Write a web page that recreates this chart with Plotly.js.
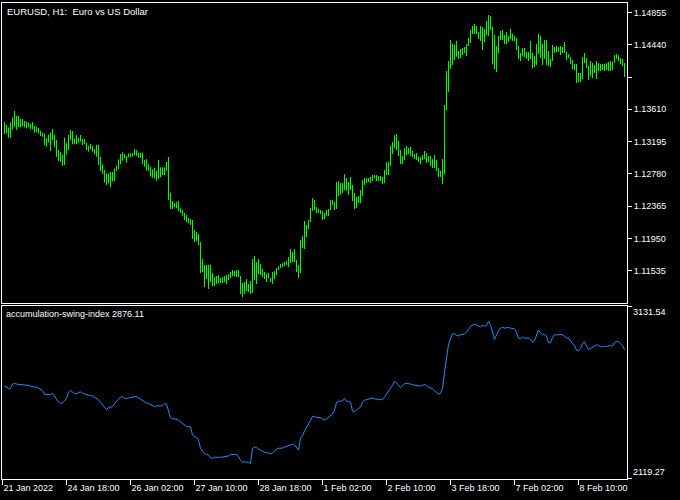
<!DOCTYPE html>
<html><head><meta charset="utf-8">
<script src="https://cdn.plot.ly/plotly-3.0.1.min.js"></script>
<style>html,body{margin:0;padding:0;background:#000;}#chart{width:680px;height:500px;}</style>
</head><body><div id="chart"></div>
<script>
const symbolTitle = 'EURUSD, H1:\u00a0 Euro vs US Dollar';
const indicatorName = 'accumulation-swing-index';
const firstBarIndex = 1; // hours since 21 Jan 2022 10:00 (weekend skipped)

const high = [
1.13448,1.13409,1.13379,1.13439,1.13507,1.13589,1.13529,1.13525,1.13486,1.13486,
1.13460,1.13452,1.13443,1.13422,1.13448,1.13396,1.13388,1.13371,1.13332,1.13311,
1.13298,1.13238,1.13285,1.13311,1.13358,1.13281,1.13216,1.13088,1.13062,1.13028,
1.13246,1.13174,1.13281,1.13345,1.13332,1.13234,1.13281,1.13246,1.13281,1.13229,
1.13229,1.13182,1.13139,1.13165,1.13139,1.13101,1.13152,1.13152,1.13002,1.12904,
1.12831,1.12788,1.12788,1.12806,1.12806,1.12853,1.12887,1.12968,1.13037,1.13058,
1.13037,1.13011,1.13045,1.13045,1.13045,1.13101,1.13088,1.13054,1.13054,1.13054,
1.12960,1.12972,1.12904,1.12874,1.12840,1.12861,1.12820,1.12960,1.12865,1.12865,
1.12865,1.12934,1.12998,1.12540,1.12433,1.12407,1.12420,1.12433,1.12339,1.12317,
1.12279,1.12253,1.12215,1.12202,1.12189,1.12060,1.12035,1.12009,1.11906,1.11688,
1.11611,1.11611,1.11611,1.11611,1.11508,1.11457,1.11470,1.11483,1.11444,1.11457,
1.11470,1.11483,1.11495,1.11521,1.11547,1.11534,1.11547,1.11547,1.11470,1.11380,
1.11393,1.11431,1.11367,1.11406,1.11688,1.11727,1.11650,1.11688,1.11624,1.11560,
1.11521,1.11495,1.11508,1.11444,1.11521,1.11534,1.11573,1.11598,1.11624,1.11637,
1.11650,1.11662,1.11714,1.11816,1.11778,1.11816,1.11675,1.11611,1.11932,1.11983,
1.12176,1.12125,1.12189,1.12343,1.12471,1.12446,1.12356,1.12330,1.12317,1.12304,
1.12279,1.12317,1.12330,1.12445,1.12445,1.12420,1.12677,1.12689,1.12664,1.12664,
1.12779,1.12728,1.12677,1.12741,1.12638,1.12535,1.12484,1.12497,1.12574,1.12702,
1.12728,1.12728,1.12728,1.12741,1.12766,1.12766,1.12766,1.12754,1.12754,1.12741,
1.12831,1.12933,1.12933,1.13139,1.13190,1.13280,1.13293,1.13203,1.13087,1.13010,
1.13113,1.13139,1.13113,1.13126,1.13075,1.13036,1.13049,1.12998,1.12998,1.13023,
1.13075,1.13049,1.13010,1.13010,1.12972,1.13023,1.12959,1.12856,1.12818,1.12972,
1.13665,1.14102,1.14230,1.14500,1.14448,1.14436,1.14487,1.14359,1.14384,1.14397,
1.14410,1.14448,1.14526,1.14628,1.14679,1.14705,1.14679,1.14602,1.14679,1.14667,
1.14641,1.14744,1.14821,1.14808,1.14667,1.14564,1.14423,1.14551,1.14615,1.14628,
1.14564,1.14602,1.14551,1.14641,1.14577,1.14551,1.14525,1.14423,1.14333,1.14397,
1.14397,1.14346,1.14346,1.14487,1.14333,1.14294,1.14448,1.14577,1.14551,1.14448,
1.14500,1.14500,1.14358,1.14256,1.14435,1.14410,1.14423,1.14410,1.14423,1.14410,
1.14474,1.14346,1.14320,1.14281,1.14243,1.14191,1.14191,1.14076,1.14076,1.14281,
1.14333,1.14269,1.14166,1.14230,1.14204,1.14179,1.14230,1.14204,1.14191,1.14191,
1.14191,1.14204,1.14217,1.14230,1.14217,1.14307,1.14320,1.14307,1.14269,1.14256,
1.14204
];
const low = [
1.13293,1.13302,1.13246,1.13246,1.13353,1.13388,1.13345,1.13379,1.13379,1.13396,
1.13379,1.13366,1.13379,1.13353,1.13353,1.13311,1.13319,1.13298,1.13268,1.13259,
1.13152,1.13131,1.13182,1.13075,1.13216,1.13122,1.13002,1.12947,1.12938,1.12887,
1.12895,1.13032,1.13088,1.13216,1.13161,1.13161,1.13161,1.13182,1.13195,1.13152,
1.13161,1.13088,1.13067,1.13097,1.13067,1.13032,1.13002,1.12895,1.12818,1.12780,
1.12669,1.12639,1.12660,1.12609,1.12681,1.12690,1.12818,1.12844,1.12908,1.12951,
1.12981,1.12925,1.12994,1.12994,1.13002,1.13024,1.13011,1.12990,1.12990,1.12908,
1.12874,1.12823,1.12823,1.12746,1.12733,1.12724,1.12692,1.12720,1.12737,1.12767,
1.12767,1.12822,1.12446,1.12330,1.12330,1.12351,1.12339,1.12304,1.12283,1.12244,
1.12189,1.12163,1.12146,1.12125,1.11945,1.11906,1.11919,1.11864,1.11508,1.11521,
1.11329,1.11431,1.11303,1.11393,1.11341,1.11341,1.11367,1.11380,1.11380,1.11380,
1.11393,1.11367,1.11418,1.11444,1.11470,1.11470,1.11457,1.11457,1.11239,1.11200,
1.11239,1.11277,1.11264,1.11239,1.11252,1.11418,1.11367,1.11495,1.11483,1.11457,
1.11431,1.11393,1.11444,1.11393,1.11367,1.11431,1.11483,1.11547,1.11573,1.11585,
1.11598,1.11611,1.11585,1.11637,1.11650,1.11650,1.11521,1.11444,1.11508,1.11829,
1.11816,1.11971,1.12073,1.12163,1.12304,1.12317,1.12279,1.12279,1.12266,1.12189,
1.12201,1.12240,1.12240,1.12317,1.12381,1.12317,1.12330,1.12497,1.12510,1.12535,
1.12574,1.12561,1.12510,1.12574,1.12433,1.12330,1.12343,1.12407,1.12407,1.12497,
1.12638,1.12664,1.12677,1.12664,1.12689,1.12728,1.12689,1.12689,1.12689,1.12651,
1.12664,1.12766,1.12766,1.12882,1.13036,1.13113,1.13087,1.13010,1.12908,1.12908,
1.12959,1.13023,1.13036,1.13010,1.12998,1.12972,1.12959,1.12933,1.12908,1.12959,
1.12972,1.12921,1.12933,1.12882,1.12856,1.12856,1.12818,1.12741,1.12741,1.12651,
1.12779,1.13601,1.13832,1.14127,1.14179,1.14243,1.14286,1.14256,1.14269,1.14307,
1.14333,1.14294,1.14423,1.14461,1.14577,1.14577,1.14577,1.14512,1.14487,1.14371,
1.14474,1.14564,1.14551,1.14628,1.14191,1.14127,1.14089,1.14333,1.14500,1.14500,
1.14448,1.14448,1.14474,1.14512,1.14487,1.14487,1.14371,1.14256,1.14230,1.14294,
1.14281,1.14256,1.14230,1.14256,1.14140,1.14153,1.14179,1.14320,1.14269,1.14179,
1.14256,1.14179,1.14166,1.14153,1.14230,1.14333,1.14346,1.14346,1.14307,1.14333,
1.14333,1.14243,1.14269,1.14191,1.14127,1.14114,1.13948,1.13960,1.13960,1.13999,
1.14204,1.14140,1.13986,1.14037,1.14012,1.14076,1.13999,1.14102,1.14102,1.14114,
1.14102,1.14114,1.14102,1.14102,1.14114,1.14204,1.14256,1.14230,1.14191,1.14166,
1.14025
];
const asi = [
2660.1,2660.1,2644.4,2648.4,2673.8,2677.7,2673.8,2671.8,2667.9,2667.9,
2667.9,2667.9,2664.0,2662.1,2658.1,2656.2,2656.2,2648.4,2644.4,2636.6,
2613.2,2613.2,2613.2,2613.2,2619.0,2605.3,2585.8,2570.1,2560.3,2564.3,
2574.0,2589.7,2624.9,2636.6,2624.9,2617.1,2617.1,2624.9,2628.8,2619.0,
2615.1,2609.2,2605.3,2605.3,2603.4,2597.5,2589.7,2581.9,2566.2,2550.6,
2534.9,2523.2,2536.9,2536.9,2540.8,2558.4,2570.1,2585.8,2597.5,2601.4,
2589.7,2589.7,2591.6,2593.6,2595.5,2599.5,2601.4,2593.6,2585.8,2574.0,
2566.2,2562.3,2560.3,2554.5,2546.6,2540.8,2546.6,2544.7,2544.7,2546.6,
2558.4,2556.4,2521.2,2476.2,2472.3,2470.4,2466.5,2462.5,2452.8,2443.0,
2429.3,2423.4,2423.4,2423.4,2374.5,2364.7,2360.8,2345.2,2296.3,2276.7,
2265.0,2261.1,2257.2,2241.5,2237.6,2243.5,2245.4,2243.5,2243.5,2245.4,
2247.4,2249.3,2251.3,2259.1,2261.1,2261.1,2261.1,2249.3,2225.9,2214.1,
2218.0,2214.1,2214.1,2206.3,2296.3,2304.1,2302.1,2292.4,2284.5,2276.7,
2272.8,2272.8,2268.9,2265.0,2268.9,2282.6,2292.4,2296.3,2296.3,2298.2,
2304.1,2308.0,2311.9,2315.8,2319.7,2315.8,2300.2,2286.5,2355.0,2370.6,
2398.0,2417.6,2433.2,2460.6,2484.1,2484.1,2478.2,2476.2,2476.2,2468.4,
2462.6,2468.4,2480.1,2486.0,2497.7,2521.2,2565.0,2572.1,2572.1,2576.0,
2587.7,2574.0,2572.1,2568.2,2515.0,2511.3,2521.2,2531.2,2538.8,2568.2,
2579.9,2581.9,2583.8,2587.7,2591.7,2587.7,2583.8,2583.8,2581.9,2583.8,
2597.5,2615.1,2626.9,2642.5,2666.0,2689.5,2681.6,2666.0,2654.2,2662.1,
2675.8,2677.7,2677.7,2673.8,2669.9,2667.9,2666.0,2662.1,2662.1,2666.0,
2671.8,2666.0,2654.2,2650.3,2646.4,2634.7,2626.9,2615.1,2619.0,2646.4,
2744.2,2842.0,2904.6,2939.8,2969.2,2967.2,2959.4,2955.5,2963.3,2967.2,
2967.2,2979.0,2998.5,3012.2,3020.0,3023.9,3022.0,3014.1,3008.3,3020.0,
3014.1,3018.1,3041.5,3022.0,2979.0,2935.9,2963.3,2988.7,3002.4,3006.3,
3002.4,3004.4,3006.3,3002.4,3002.4,2998.5,2979.0,2943.7,2939.8,2949.6,
2943.7,2943.7,2943.7,2935.9,2920.3,2928.1,2963.3,2990.7,2975.0,2963.3,
2965.2,2955.5,2916.4,2916.4,2947.6,2963.3,2963.3,2963.3,2963.3,2963.3,
2955.5,2943.7,2943.7,2924.2,2910.5,2900.7,2873.3,2869.4,2881.1,2912.4,
2920.3,2896.8,2877.2,2881.1,2889.0,2896.8,2904.6,2900.7,2892.9,2892.9,
2896.8,2892.9,2896.8,2900.7,2896.8,2916.4,2924.2,2922.2,2912.4,2900.7,
2876.11
];

const timeTickIdx = [0, 32, 64, 96, 128, 160, 192, 224, 256, 288];
const timeTickText = ['21 Jan 2022','24 Jan 18:00','26 Jan 02:00','27 Jan 10:00','28 Jan 18:00',
                      '1 Feb 02:00','2 Feb 10:00','3 Feb 18:00','7 Feb 02:00','8 Feb 10:00'];
const priceTicks = [1.14855, 1.14440, 1.14025, 1.13610, 1.13195, 1.12780, 1.12365, 1.11950, 1.11535];
const priceTickText = ['1.14855','1.14440','','1.13610','1.13195','1.12780','1.12365','1.11950','1.11535'];
const asiScale = [2119.27, 3131.54];

const barX = high.map((_, i) => firstBarIndex + i);
const segX = [], segY = [];
barX.forEach((x, i) => { segX.push(x, x, null); segY.push(low[i], high[i], null); });

const FONT = 'Liberation Sans, Arial, sans-serif';
const WHITE = '#ffffff';
const xr = [-0.25, 312.25];
const topDom = [0.36975, 1];
const botDom = [0, 0.36345];

const traces = [
  {type:'scatter', mode:'lines', x:segX, y:segY, xaxis:'x', yaxis:'y',
   line:{color:'#00ff00', width:1}, hoverinfo:'skip'},
  {type:'scatter', mode:'lines', x:barX, y:asi, xaxis:'x2', yaxis:'y2',
   line:{color:'#1e90ff', width:1}, hoverinfo:'skip'}
];

const axBase = {showgrid:false, zeroline:false, showline:true, mirror:true,
  linecolor:WHITE, linewidth:1, tickcolor:WHITE, tickwidth:1,
  tickfont:{family:FONT, size:9, color:WHITE}, fixedrange:true};

const layout = {
  width:680, height:500, paper_bgcolor:'#000', plot_bgcolor:'#000', showlegend:false,
  margin:{l:2, r:53, t:3, b:21},
  font:{family:FONT, size:9, color:WHITE},
  xaxis:Object.assign({}, axBase, {domain:[0,1], anchor:'y', range:xr, showticklabels:false, ticks:''}),
  yaxis:Object.assign({}, axBase, {domain:topDom, anchor:'x', side:'right', range:[1.11124, 1.14975],
    tickmode:'array', tickvals:priceTicks, ticktext:priceTickText, ticks:'outside', ticklen:4}),
  xaxis2:Object.assign({}, axBase, {domain:[0,1], anchor:'y2', range:xr, tickmode:'array',
    tickvals:timeTickIdx, ticktext:timeTickText, ticks:'outside', ticklen:5,
    ticklabelposition:'outside right'}),
  yaxis2:Object.assign({}, axBase, {domain:botDom, anchor:'x2', side:'right', range:[2116.3, 3132.2],
    tickmode:'array', tickvals:asiScale, ticktext:['',''], ticks:'outside', ticklen:4}),
  annotations:[
    {xref:'paper', yref:'paper', x:0, y:topDom[1], xanchor:'left', yanchor:'top', xshift:3, yshift:-1,
     text:symbolTitle, showarrow:false, font:{family:FONT, size:9.5, color:WHITE}},
    {xref:'paper', yref:'paper', x:0, y:botDom[1], xanchor:'left', yanchor:'top', xshift:2, yshift:-1,
     text:indicatorName + ' ' + asi[asi.length-1].toFixed(2), showarrow:false, font:{family:FONT, size:9, color:WHITE}},
    {xref:'paper', yref:'y2', x:1, y:asiScale[1], xanchor:'left', yanchor:'top', xshift:4, yshift:1,
     text:asiScale[1].toFixed(2), showarrow:false, font:{family:FONT, size:9, color:WHITE}},
    {xref:'paper', yref:'y2', x:1, y:asiScale[0], xanchor:'left', yanchor:'bottom', xshift:4, yshift:-1,
     text:asiScale[0].toFixed(2), showarrow:false, font:{family:FONT, size:9, color:WHITE}}
  ]
};

Plotly.newPlot('chart', traces, layout, {staticPlot:true, displayModeBar:false});
</script>
</body></html>
